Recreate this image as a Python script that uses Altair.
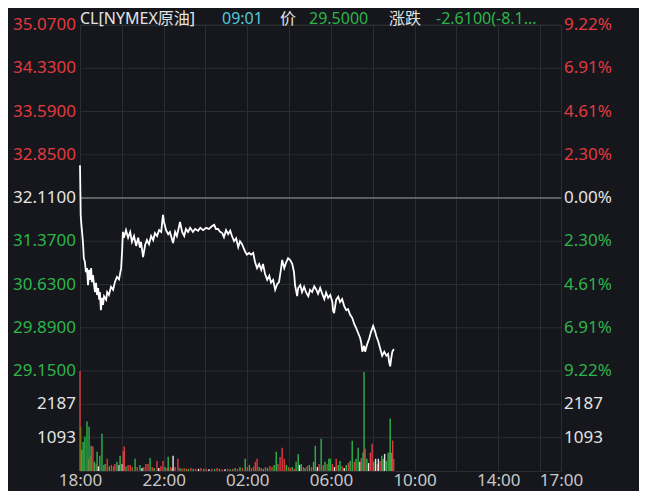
import altair as alt
import pandas as pd

# ---------------- data ----------------
prev_close = 32.11
price_ticks = [35.07, 34.33, 33.59, 32.85, 32.11, 31.37, 30.63, 29.89, 29.15]
price_tick_labels = ["35.0700", "34.3300", "33.5900", "32.8500", "32.1100",
                     "31.3700", "30.6300", "29.8900", "29.1500"]
pct_tick_labels = ["9.22%", "6.91%", "4.61%", "2.30%", "0.00%",
                   "2.30%", "4.61%", "6.91%", "9.22%"]
vol_ticks = [2187, 1093]
vol_tick_labels = ["2187", "1093"]
vol_top = 3280.5

x_grid_minutes = [0, 120, 240, 360, 480, 600, 720, 840, 960, 1080, 1200, 1320, 1380]
x_label_minutes = [0, 240, 480, 720, 960, 1200, 1380]
x_labels = ["18:00", "22:00", "02:00", "06:00", "10:00", "14:00", "17:00"]

title_parts = ["CL[NYMEX原油]", "09:01", "价", "29.5000", "涨跌", "-2.6100(-8.1..."]

# minutes after 18:00
price_minutes = [
    0, 1, 2, 4, 6, 9, 11, 14, 17, 20,
    23, 26, 29, 32, 34, 37, 43, 46, 49, 52,
    55, 57, 60, 63, 66, 69, 75, 78, 83, 89,
    95, 100, 106, 112, 118, 121, 123, 126, 132, 138,
    144, 149, 155, 161, 167, 172, 175, 181, 187, 192,
    198, 204, 210, 215, 221, 227, 233, 238, 241, 247,
    253, 258, 267, 273, 278, 287, 293, 299, 304, 310,
    316, 324, 330, 339, 345, 353, 362, 370, 379, 385,
    390, 396, 402, 408, 413, 419, 425, 431, 436, 442,
    448, 454, 459, 465, 474, 479, 485, 491, 497, 502,
    508, 514, 520, 525, 531, 537, 543, 548, 554, 560,
    566, 571, 577, 580, 586, 591, 597, 603, 609, 614,
    617, 623, 626, 632, 637, 643, 649, 655, 660, 666,
    672, 678, 683, 689, 695, 701, 706, 712, 718, 724,
    726, 729, 735, 741, 746, 752, 758, 764, 769, 775,
    781, 787, 792, 798, 804, 807, 810, 815, 818, 824,
    830, 835, 841, 847, 850, 856, 861, 867, 873, 879,
    884, 887, 890, 893, 896, 899, 901,
]
price_values = [
    32.67, 32.25, 31.82, 31.65, 31.53, 31.31, 31.08, 31.02, 30.84, 30.91,
    30.62, 30.88, 30.71, 30.91, 30.67, 30.79, 30.50, 30.66, 30.45, 30.57,
    30.37, 30.50, 30.19, 30.40, 30.28, 30.43, 30.37, 30.50, 30.45, 30.59,
    30.54, 30.67, 30.76, 30.72, 30.91, 31.22, 31.53, 31.43, 31.56, 31.43,
    31.53, 31.36, 31.46, 31.29, 31.43, 31.26, 31.36, 31.10, 31.31, 31.39,
    31.32, 31.46, 31.39, 31.51, 31.46, 31.56, 31.53, 31.82, 31.70, 31.56,
    31.49, 31.53, 31.34, 31.53, 31.46, 31.70, 31.53, 31.46, 31.58, 31.53,
    31.60, 31.53, 31.58, 31.55, 31.60, 31.56, 31.60, 31.58, 31.63, 31.65,
    31.58, 31.58, 31.53, 31.51, 31.44, 31.56, 31.49, 31.55, 31.46, 31.37,
    31.42, 31.27, 31.37, 31.32, 31.19, 31.14, 31.17, 31.14, 31.17, 31.02,
    30.91, 30.98, 30.88, 30.98, 30.81, 30.71, 30.78, 30.66, 30.71, 30.54,
    30.64, 30.67, 30.91, 31.05, 30.91, 31.00, 31.08, 31.05, 30.98, 30.84,
    30.62, 30.43, 30.57, 30.62, 30.50, 30.59, 30.49, 30.43, 30.54, 30.50,
    30.60, 30.54, 30.47, 30.57, 30.47, 30.38, 30.49, 30.40, 30.45, 30.33,
    30.19, 30.14, 30.37, 30.42, 30.33, 30.38, 30.26, 30.19, 30.21, 30.11,
    30.06, 29.95, 29.89, 29.80, 29.71, 29.63, 29.48, 29.58, 29.48, 29.61,
    29.71, 29.82, 29.92, 29.82, 29.75, 29.65, 29.54, 29.41, 29.48, 29.41,
    29.44, 29.30, 29.23, 29.37, 29.48, 29.51, 29.50,
]

vol_minutes = [
    0, 2, 5, 9, 14, 20, 24, 26, 29, 32,
    37, 41, 46, 49, 53, 57, 63, 68, 72, 78,
    84, 90, 96, 100, 106, 112, 115, 121, 124, 127,
    132, 138, 144, 150, 158, 164, 172, 178, 183, 189,
    195, 201, 207, 213, 221, 226, 232, 238, 244, 250,
    253, 259, 264, 267, 273, 281, 287, 293, 299, 305,
    311, 318, 325, 332, 340, 347, 355, 362, 370, 378,
    386, 393, 400, 408, 416, 424, 431, 438, 445, 452,
    459, 466, 474, 480, 486, 492, 498, 503, 508, 514,
    520, 526, 532, 538, 545, 551, 557, 563, 568, 574,
    580, 586, 592, 598, 603, 609, 615, 620, 626, 630,
    635, 641, 646, 652, 658, 664, 670, 675, 681, 686,
    692, 698, 703, 709, 714, 718, 724, 730, 735, 741,
    746, 752, 758, 764, 770, 775, 781, 787, 792, 798,
    803, 807, 812, 815, 818, 823, 828, 833, 838, 843,
    848, 853, 856, 861, 866, 870, 874, 879, 884, 888,
    890, 894, 897, 900,
]
vol_values = [
    3280, 1450, 700, 950, 1130, 1620, 400, 1450, 500, 830,
    800, 300, 250, 630, 150, 500, 1220, 200, 230, 400,
    150, 200, 150, 230, 300, 200, 500, 230, 660, 800,
    150, 200, 200, 130, 400, 130, 200, 100, 130, 230,
    230, 430, 130, 100, 330, 100, 160, 330, 130, 100,
    470, 130, 100, 500, 130, 400, 100, 70, 100, 70,
    70, 100, 70, 70, 70, 100, 70, 70, 60, 70,
    70, 100, 70, 60, 60, 70, 60, 70, 100, 70,
    130, 100, 400, 130, 200, 100, 150, 300, 400, 130,
    100, 70, 130, 100, 160, 130, 200, 630, 230, 460,
    760, 400, 200, 130, 100, 130, 70, 300, 560, 200,
    230, 130, 100, 160, 200, 130, 300, 830, 130, 230,
    1060, 200, 300, 230, 400, 400, 230, 130, 400, 200,
    330, 160, 100, 200, 260, 330, 990, 300, 400, 760,
    300, 430, 600, 3250, 730, 400, 260, 600, 890, 300,
    400, 230, 400, 330, 500, 400, 560, 330, 600, 630,
    1720, 600, 1000, 400,
]
vol_side = [
    "up", "mixed", "down", "down", "down", "down", "up", "down", "mixed", "down",
    "up", "down", "up", "down", "flat", "down", "down", "up", "down", "up",
    "down", "up", "mixed", "up", "down", "flat", "down", "flat", "up", "up",
    "down", "up", "up", "mixed", "down", "up", "down", "flat", "up", "up",
    "up", "down", "up", "down", "up", "flat", "up", "up", "down", "up",
    "down", "up", "down", "flat", "up", "up", "down", "up", "mixed", "up",
    "down", "up", "down", "up", "flat", "up", "down", "up", "flat", "up",
    "down", "up", "down", "up", "flat", "up", "down", "up", "down", "up",
    "down", "up", "down", "up", "down", "up", "mixed", "up", "up", "down",
    "up", "down", "up", "down", "up", "mixed", "down", "down", "up", "up",
    "up", "up", "down", "mixed", "up", "down", "up", "down", "down", "flat",
    "down", "up", "down", "up", "down", "up", "down", "down", "flat", "up",
    "down", "up", "down", "mixed", "down", "down", "up", "flat", "up", "down",
    "down", "up", "flat", "down", "up", "down", "down", "up", "down", "down",
    "flat", "up", "down", "down", "up", "down", "flat", "up", "up", "down",
    "flat", "up", "flat", "up", "down", "down", "flat", "down", "down", "mixed",
    "down", "down", "up", "mixed",
]
assert len(price_minutes) == len(price_values)
assert len(vol_minutes) == len(vol_values) == len(vol_side)

# ---------------- layout / style ----------------
FONT = "Noto Sans, Noto Sans CJK SC"
BG = "#15171c"
GRID = "#2b2d32"
RED = "#e23a3f"
GREEN = "#2db44b"
WHITE = "#e4e4e4"
AXIS_TXT = "#c8c8c8"

W = 481
HP = 346          # price panel
HV = 100          # volume panel
H = HP + HV
p_hi, p_lo_tick = price_ticks[0], price_ticks[-1]
p_lo = p_lo_tick - (HV / HP) * (p_hi - p_lo_tick)
price_scale = alt.Scale(domain=[p_lo, p_hi], zero=False, nice=False)
vol_scale = alt.Scale(domain=[0, vol_top * H / HV], nice=False, zero=True)
x_scale = alt.Scale(domain=[0, 1380], nice=False, zero=False, padding=0)
color_scale = alt.Scale(domain=["up", "down", "flat", "mixed"],
                        range=[RED, GREEN, WHITE, "#7f6e12"])

label_expr = ""
for m, lab in zip(x_label_minutes, x_labels):
    label_expr += f"datum.value == {m} ? '{lab}' : "
label_expr += "''"

x_axis = alt.Axis(values=x_grid_minutes, labelExpr=label_expr, grid=True,
                  gridColor=GRID, ticks=False, domainColor=GRID,
                  labelColor=AXIS_TXT, labelFontSize=17, labelFont=FONT,
                  labelPadding=1, labelFlush=False, labelOverlap=False,
                  title=None)
X = alt.X("minute:Q", scale=x_scale, axis=x_axis)


def side(v):
    if v > prev_close:
        return "up"
    if v < prev_close:
        return "down"
    return "flat"


tick_df = pd.DataFrame({
    "tick": price_ticks,
    "label": price_tick_labels,
    "pct": pct_tick_labels,
    "side": [side(t) for t in price_ticks],
})
vtick_df = pd.DataFrame({"tick": vol_ticks, "label": vol_tick_labels,
                         "side": ["flat"] * len(vol_ticks)})
price_df = pd.DataFrame({"minute": price_minutes, "price": price_values})
vol_df = pd.DataFrame({"minute": vol_minutes, "vol": vol_values, "side": vol_side})


def COLOR():
    return alt.Color("side:N", scale=color_scale, legend=None)


# ---- price group ----
p_grid = alt.Chart(tick_df).mark_rule(color=GRID, strokeWidth=1).encode(
    y=alt.Y("tick:Q", scale=price_scale, axis=None))
p_base = alt.Chart(pd.DataFrame({"tick": [prev_close]})).mark_rule(
    color="#5e5f62", strokeWidth=2).encode(
    y=alt.Y("tick:Q", scale=price_scale, axis=None))
p_line = alt.Chart(price_df).mark_line(color="#ffffff", strokeWidth=1.8).encode(
    x=X, y=alt.Y("price:Q", scale=price_scale, axis=None))
p_left = alt.Chart(tick_df).mark_text(align="right", baseline="middle",
                                      fontSize=17, font=FONT).encode(
    x=alt.value(-4), y=alt.Y("tick:Q", scale=price_scale, axis=None),
    text="label:N", color=COLOR())
p_right = alt.Chart(tick_df).mark_text(align="left", baseline="middle",
                                       fontSize=17, font=FONT).encode(
    x=alt.value(W + 3), y=alt.Y("tick:Q", scale=price_scale, axis=None),
    text="pct:N", color=COLOR())

title_colors = [WHITE, "#56c7d6", WHITE, GREEN, WHITE, GREEN]
title_x = [0, 142, 200, 229, 309, 356]
title_layers = []
for txt, col, tx in zip(title_parts, title_colors, title_x):
    title_layers.append(
        alt.Chart(pd.DataFrame({"t": [txt]})).mark_text(
            align="left", baseline="middle", fontSize=16, font=FONT, color=col
        ).encode(x=alt.value(tx), y=alt.value(-6), text="t:N"))

price_group = alt.layer(p_grid, p_base, p_line, p_left, p_right, *title_layers)

# ---- volume group ----
v_grid = alt.Chart(vtick_df).mark_rule(color=GRID, strokeWidth=1).encode(
    y=alt.Y("tick:Q", scale=vol_scale, axis=None))
v_bars = alt.Chart(vol_df).mark_bar(size=1.4).encode(
    x=X, y=alt.Y("vol:Q", scale=vol_scale, axis=None), color=COLOR())
v_left = alt.Chart(vtick_df).mark_text(align="right", baseline="middle",
                                       fontSize=17, font=FONT).encode(
    x=alt.value(-4), y=alt.Y("tick:Q", scale=vol_scale, axis=None),
    text="label:N", color=COLOR())
v_right = alt.Chart(vtick_df).mark_text(align="left", baseline="middle",
                                        fontSize=17, font=FONT).encode(
    x=alt.value(W + 3), y=alt.Y("tick:Q", scale=vol_scale, axis=None),
    text="label:N", color=COLOR())
vol_group = alt.layer(v_grid, v_bars, v_left, v_right)

chart = alt.layer(price_group, vol_group).resolve_scale(
    y="independent"
).properties(
    width=W, height=H,
    autosize=alt.AutoSizeParams(type="none"),
    padding={"left": 72, "top": 17, "right": 78, "bottom": 20},
    background=BG,
).configure_view(stroke=GRID)

chart.save("out.html", embed_options={"renderer": "svg", "actions": False})
